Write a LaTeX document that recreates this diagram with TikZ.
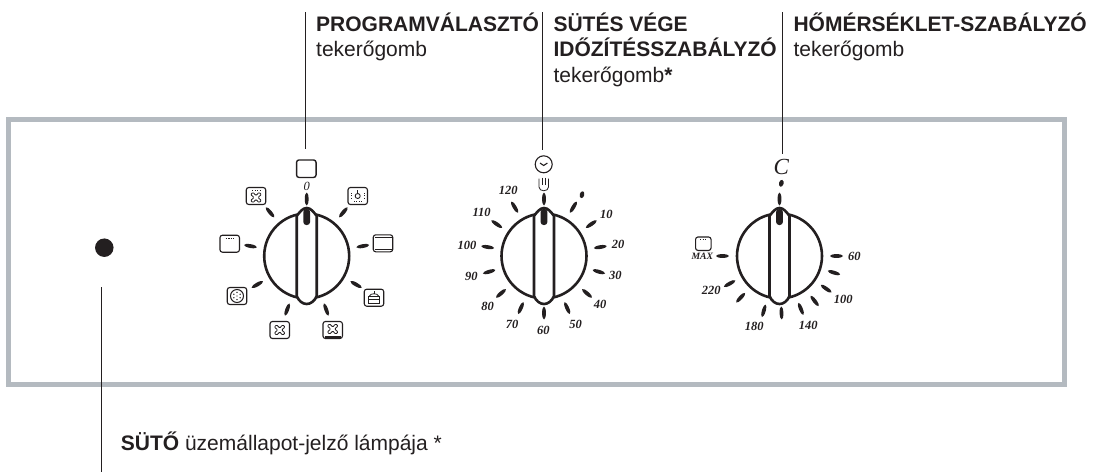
\documentclass[tikz,border=0pt]{standalone}
\usepackage{fontspec}
\setmainfont{Liberation Sans}
\newfontfamily\dialfont{Liberation Serif}
\usepackage{tikz}
\usetikzlibrary{shapes.geometric,positioning}
\definecolor{panelgray}{RGB}{180,186,192}
\definecolor{inkblack}{RGB}{35,31,32}
\tikzstyle{panel} = [draw=panelgray, line width=5pt]
\tikzstyle{leader} = [draw=inkblack, line width=1.2pt]
\tikzstyle{caption} = [anchor=north west, inner sep=0pt, align=left, text=inkblack,
                       font=\fontsize{21}{25.6}\selectfont]
\tikzstyle{knobline} = [draw=inkblack, line width=2.6pt, fill=white]
\tikzstyle{dialtick} = [ellipse, fill=inkblack, inner sep=0pt, minimum width=3.8pt, minimum height=13pt]
\tikzstyle{dialnum} = [inner sep=0pt, text=inkblack, font=\dialfont\fontsize{12.5}{13}\selectfont\itshape\bfseries]
\tikzstyle{ovenbox} = [rectangle, rounded corners=2.5pt, draw=inkblack, line width=1.1pt, fill=white,
                       inner sep=0pt, minimum width=19.5pt, minimum height=17pt]
\tikzstyle{glyph} = [draw=inkblack, line width=.8pt]
\tikzset{
  fanglyph/.pic={
    \draw[draw=inkblack, line width=.8pt, rounded corners=1pt] (-5.4,-3) -- (-3,-5.2) -- (0,-1.9) -- (3,-5.2) -- (5.4,-3)
      -- (1.9,0) -- (5.4,3) -- (3,5.2) -- (0,1.9) -- (-3,5.2) -- (-5.4,3) -- (-1.9,0) -- cycle;
  },
  grilldots/.pic={
    \draw[draw=inkblack, line width=1pt, dash pattern=on 1.3pt off 1.2pt] (-4,0) -- (4,0);
  }
}
% dial body: circle with the grip bar over it
\newcommand{\dialknob}[1]{
  \begin{scope}[shift={(#1,256)}]
    \draw[knobline] (0,0) circle[radius=42.5];
    \draw[knobline] (-10,-40) .. controls (-7,-44) and (-4,-48) .. (0,-48)
      .. controls (4,-48) and (7,-44) .. (10,-40) -- (10,40)
      .. controls (8,45) and (4,48) .. (0,48) .. controls (-4,48) and (-8,45) .. (-10,40) -- cycle;
    \fill[inkblack, rounded corners=3pt] (-3.4,-47) rectangle (3.4,-31);
  \end{scope}
}
\begin{document}
\begin{tikzpicture}[x=1pt, y=-1pt]
  \useasboundingbox (0,0) rectangle (1093,472);

  % Panel
  \node[panel, rectangle, inner sep=0pt, minimum width=1055.3pt, minimum height=264.5pt] (panel) at (536.35,252) {};

  % Lamp
  \node[circle, fill=inkblack, inner sep=0pt, minimum size=18.5pt] (lamp) at (104.3,247.7) {};
  \coordinate (lamptop) at (101.2,287);
  \coordinate (lampend) at (101.2,472);
  \draw[leader] (lamptop) -- (lampend);
  \node[caption, anchor=base west] (lampcap) at (120.7,450) {\textbf{SÜTŐ} üzemállapot-jelző lámpája *};

  % Captions
  \node[caption] (progcap) at (316,12.5) {\textbf{PROGRAMVÁLASZTÓ}\\tekerőgomb};
  \node[caption] (timecap) at (553.3,12.5) {\textbf{SÜTÉS VÉGE}\\\textbf{IDŐZÍTÉSSZABÁLYZÓ}\\tekerőgomb\textbf{*}};
  \node[caption] (tempcap) at (793.3,12.5) {\textbf{HŐMÉRSÉKLET-SZABÁLYZÓ}\\tekerőgomb};

  % Leaders
  \coordinate (progtop) at (305.7,12);
  \coordinate (progend) at (305.7,149);
  \coordinate (timetop) at (542.7,12);
  \coordinate (timeend) at (542.7,150);
  \coordinate (temptop) at (782.3,12);
  \coordinate (tempend) at (782.3,154);
  \draw[leader] (progtop) -- (progend);
  \draw[leader] (timetop) -- (timeend);
  \draw[leader] (temptop) -- (tempend);

  % Knobs
  \dialknob{306.7}
  \dialknob{544}
  \dialknob{779.5}

  % Programme ticks
  \foreach \a in {0,40,...,320}
    \node[dialtick, rotate=-\a] (ptick\a) at ({306.7+57*sin(\a)},{256-57*cos(\a)}) {};

  % Timer ticks
  \foreach \a in {0,31,56,81,106,131,156,180,204,229,254,279,304,329}
    \node[dialtick, rotate=-\a] (ttick\a) at ({544+57*sin(\a)},{256-57*cos(\a)}) {};

  % Temperature ticks
  \foreach \a in {0,90,107,125,142,158,178,196,223,241,270}
    \node[dialtick, rotate=-\a] (ctick\a) at ({779.5+57*sin(\a)},{256-57*cos(\a)}) {};

  % Timer numbers
  \foreach \x/\y/\t in {508.3/190.7/120, 481.7/212.3/110, 467/245.3/100, 471.3/276.3/90,
                        487.7/306.7/80, 512/324.7/70, 543.3/330/60, 575.7/324/50,
                        600/304.3/40, 615.3/275.3/30, 618/244/20, 606.3/214.3/10}
    \node[dialnum] (tnum\t) at (\x,\y) {\t};

  % Temperature numbers
  \foreach \x/\y/\t in {854.3/256.7/60, 843.3/299.7/100, 808.3/325.3/140, 754.3/326.7/180, 711.3/290.3/220}
    \node[dialnum] (cnum\t) at (\x,\y) {\t};
  \node[dialnum, font=\dialfont\fontsize{9.7}{10}\selectfont\itshape\bfseries] (maxlabel) at (702.3,256.7) {MAX};
  \node[inner sep=0pt, text=inkblack, font=\dialfont\fontsize{23}{24}\selectfont\itshape] (cmark) at (781.3,167.3) {C};
  \node[ellipse, fill=inkblack, inner sep=0pt, minimum width=4.6pt, minimum height=7pt, rotate=-15] (cdot) at (781.3,183.3) {};
  \node[ellipse, fill=inkblack, inner sep=0pt, minimum width=4.6pt, minimum height=7pt, rotate=-15] (tdot) at (582,194.7) {};

  % Clock and hand
  \node[circle, draw=inkblack, line width=1.1pt, inner sep=0pt, minimum size=17pt] (clock) at (543.7,164.3) {};
  \draw[glyph, line width=1.1pt] (540,163) -- (543.7,165.5) -- (547.4,163);
  \draw[glyph] (539,178.5) -- (539,187) .. controls (539,192) and (548.5,192) .. (548.5,187) -- (548.5,178.5);
  \draw[glyph] (542.2,177.5) -- (542.2,185);
  \draw[glyph] (545.4,177.5) -- (545.4,185);

  % Programme icons
  \node[ovenbox, minimum height=17.5pt, line width=1.4pt] (offbox) at (306.3,168.7) {};
  \node[dialnum, font=\dialfont\fontsize{12.5}{13}\selectfont\itshape] (zero) at (306.7,186) {0};
  \node[ovenbox] (fantop) at (256,196) {};
  \pic at (256,197.5) {fanglyph};
  \pic at (256,190) {grilldots};
  \node[ovenbox] (light) at (357.7,196) {};
  \node[circle, draw=inkblack, line width=.9pt, inner sep=0pt, minimum size=5pt] (bulb) at (357.7,196) {};
  \draw[glyph] (357.7,190) -- (357.7,193.5);
  \draw[glyph, dash pattern=on 1pt off 1.4pt] (351.5,193) -- (351.5,199);
  \draw[glyph, dash pattern=on 1pt off 1.4pt] (363.9,193) -- (363.9,199);
  \draw[glyph, dash pattern=on 1pt off 1.4pt] (354,201.5) -- (361.5,201.5);
  \node[ovenbox] (grillbox) at (229.7,243.7) {};
  \pic at (229.7,238.5) {grilldots};
  \node[ovenbox] (heatbox) at (383,243.3) {};
  \draw[glyph, line width=1pt] (374.5,237.6) -- (391.5,237.6);
  \draw[glyph, line width=1pt] (374.5,249) -- (391.5,249);
  \node[ovenbox] (cakebox) at (374,297.7) {};
  \draw[glyph] (368.5,296) -- (379.5,296) -- (379.5,303) -- (368.5,303) -- cycle;
  \draw[glyph] (368.5,299.5) -- (379.5,299.5);
  \draw[glyph] (369.5,296) .. controls (370,293) and (378,293) .. (378.5,296);
  \draw[glyph] (374,293.5) -- (374,290.5);
  \node[ovenbox] (fanbottom) at (332.7,330) {};
  \pic at (332.7,329) {fanglyph};
  \draw[glyph, line width=1.2pt] (324.5,337) -- (341,337);
  \node[ovenbox] (fanbox) at (279.7,330) {};
  \pic at (279.7,330) {fanglyph};
  \node[ovenbox] (pizzabox) at (237,296) {};
  \node[circle, draw=inkblack, line width=1pt, inner sep=0pt, minimum size=13pt] (pizza) at (237,296) {};
  \foreach \a in {30,90,...,330}
    \fill[inkblack] ({237+3.6*cos(\a)},{296+3.6*sin(\a)}) circle[radius=.8];
  \fill[inkblack] (237,296) circle[radius=.7];
  \node[ovenbox, minimum width=15.5pt, minimum height=13.5pt] (maxbox) at (703.3,243.7) {};
  \pic[scale=.8] at (703.3,239.5) {grilldots};
\end{tikzpicture}
\end{document}
